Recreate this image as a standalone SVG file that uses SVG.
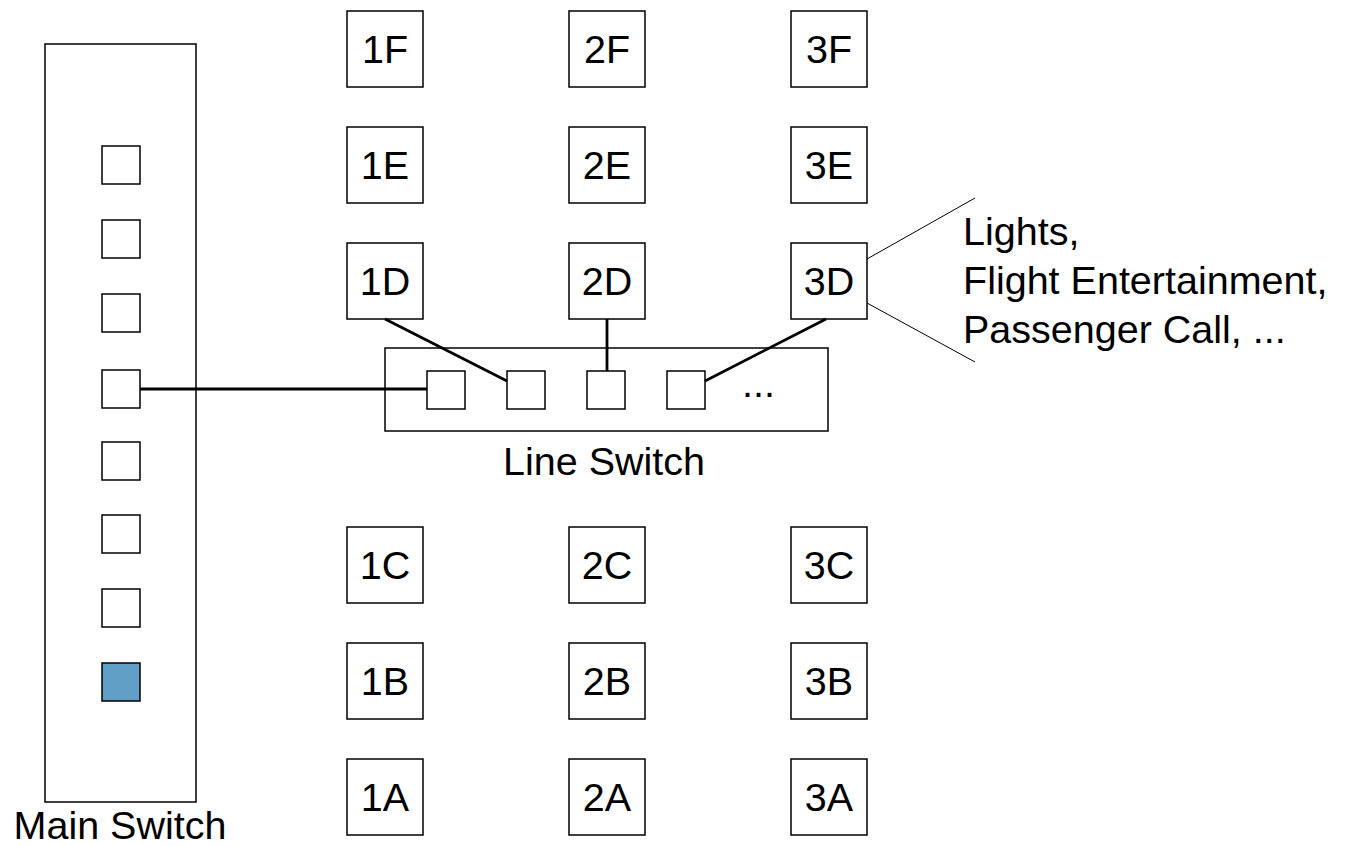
<svg xmlns="http://www.w3.org/2000/svg" width="1347" height="846" viewBox="0 0 1347 846">
<style>
.box{fill:#fff;stroke:#000;stroke-width:1.5}
.sq{fill:#fff;stroke:#000;stroke-width:1.5}
.lbl{font-family:"Liberation Sans",Arial,sans-serif;font-size:39.5px;fill:#000;text-anchor:middle}
.txt{font-family:"Liberation Sans",Arial,sans-serif;font-size:39.5px;fill:#000}
.wire{stroke:#000;stroke-width:2.8;fill:none}
.thin{stroke:#000;stroke-width:1;fill:none}
</style>
<rect width="1347" height="846" fill="#fff"/>
<g id="main-switch">
<rect class="box" x="45" y="44" width="151" height="758"/>
<rect class="sq" x="102" y="146" width="38" height="38"/>
<rect class="sq" x="102" y="220" width="38" height="38"/>
<rect class="sq" x="102" y="294" width="38" height="38"/>
<rect class="sq" x="102" y="370" width="38" height="38"/>
<rect class="sq" x="102" y="442" width="38" height="38"/>
<rect class="sq" x="102" y="515" width="38" height="38"/>
<rect class="sq" x="102" y="589" width="38" height="38"/>
<rect x="102" y="663" width="38" height="38" fill="#629fc8" stroke="#000" stroke-width="1.5"/>
<text class="lbl" x="120" y="839">Main Switch</text>
</g>
<g id="line-switch">
<rect class="box" x="385" y="348" width="443" height="83"/>
<rect class="sq" x="427" y="371" width="38" height="38"/>
<rect class="sq" x="507" y="371" width="38" height="38"/>
<rect class="sq" x="587" y="371" width="38" height="38"/>
<rect class="sq" x="667" y="371" width="38" height="38"/>
<text class="txt" x="742" y="397">...</text>
<text class="lbl" x="604" y="475">Line Switch</text>
</g>
<g id="seats">
<g id="n1F"><rect class="box" x="347" y="11" width="76" height="76"/><text class="lbl" x="385" y="63">1F</text></g>
<g id="n2F"><rect class="box" x="569" y="11" width="76" height="76"/><text class="lbl" x="607" y="63">2F</text></g>
<g id="n3F"><rect class="box" x="791" y="11" width="76" height="76"/><text class="lbl" x="829" y="63">3F</text></g>
<g id="n1E"><rect class="box" x="347" y="127" width="76" height="76"/><text class="lbl" x="385" y="179">1E</text></g>
<g id="n2E"><rect class="box" x="569" y="127" width="76" height="76"/><text class="lbl" x="607" y="179">2E</text></g>
<g id="n3E"><rect class="box" x="791" y="127" width="76" height="76"/><text class="lbl" x="829" y="179">3E</text></g>
<g id="n1D"><rect class="box" x="347" y="243" width="76" height="76"/><text class="lbl" x="385" y="295">1D</text></g>
<g id="n2D"><rect class="box" x="569" y="243" width="76" height="76"/><text class="lbl" x="607" y="295">2D</text></g>
<g id="n3D"><rect class="box" x="791" y="243" width="76" height="76"/><text class="lbl" x="829" y="295">3D</text></g>
<g id="n1C"><rect class="box" x="347" y="527" width="76" height="76"/><text class="lbl" x="385" y="579">1C</text></g>
<g id="n2C"><rect class="box" x="569" y="527" width="76" height="76"/><text class="lbl" x="607" y="579">2C</text></g>
<g id="n3C"><rect class="box" x="791" y="527" width="76" height="76"/><text class="lbl" x="829" y="579">3C</text></g>
<g id="n1B"><rect class="box" x="347" y="643" width="76" height="76"/><text class="lbl" x="385" y="695">1B</text></g>
<g id="n2B"><rect class="box" x="569" y="643" width="76" height="76"/><text class="lbl" x="607" y="695">2B</text></g>
<g id="n3B"><rect class="box" x="791" y="643" width="76" height="76"/><text class="lbl" x="829" y="695">3B</text></g>
<g id="n1A"><rect class="box" x="347" y="759" width="76" height="76"/><text class="lbl" x="385" y="811">1A</text></g>
<g id="n2A"><rect class="box" x="569" y="759" width="76" height="76"/><text class="lbl" x="607" y="811">2A</text></g>
<g id="n3A"><rect class="box" x="791" y="759" width="76" height="76"/><text class="lbl" x="829" y="811">3A</text></g>
</g>
<g id="connectors">
<line class="wire" x1="140" y1="389" x2="427" y2="389"/>
<line class="wire" x1="385" y1="319" x2="507" y2="381"/>
<line class="wire" x1="607" y1="319" x2="607" y2="371"/>
<line class="wire" x1="826" y1="319" x2="705" y2="381"/>
<line class="thin" x1="867" y1="259" x2="975" y2="198"/>
<line class="thin" x1="867" y1="303" x2="975" y2="362"/>
</g>
<g id="devices-note">
<text class="txt" x="963" y="245">Lights,</text>
<text class="txt" x="963" y="294">Flight Entertainment,</text>
<text class="txt" x="963" y="343">Passenger Call, ...</text>
</g>
</svg>
